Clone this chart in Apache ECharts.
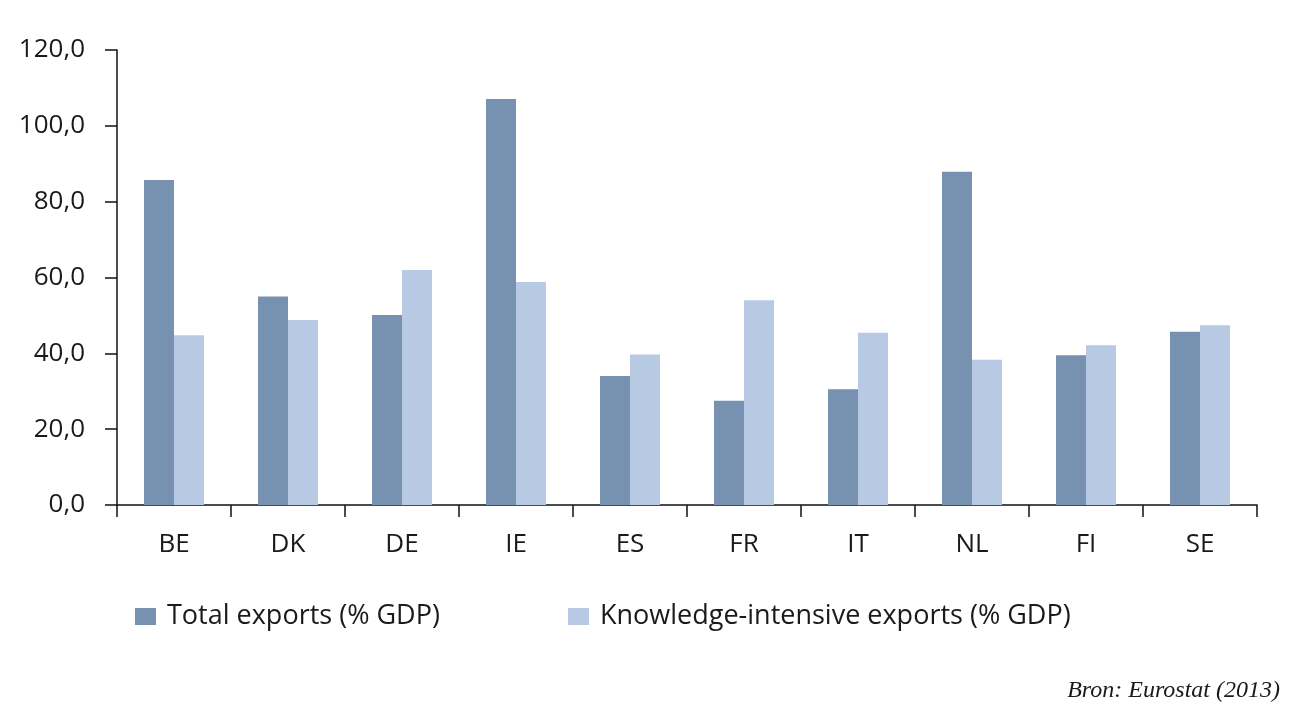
<!DOCTYPE html>
<html>
<head>
<meta charset="utf-8">
<script src="https://cdn.jsdelivr.net/npm/echarts@6/dist/echarts.min.js"></script>
<style>
html,body{margin:0;padding:0;background:#fff;}
#chart{width:1292px;height:720px;}
</style>
</head>
<body>
<div id="chart"></div>
<script>
const categories = ['BE','DK','DE','IE','ES','FR','IT','NL','FI','SE'];
const totalExports = [85.7, 55.0, 50.1, 107.1, 34.0, 27.5, 30.5, 87.9, 39.5, 45.7];
const knowledgeExports = [44.8, 48.8, 62.0, 58.8, 39.7, 54.0, 45.4, 38.3, 42.1, 47.4];
const seriesNames = ['Total exports (% GDP)', 'Knowledge-intensive exports (% GDP)'];
const sourceText = 'Bron: Eurostat (2013)';

const chart = echarts.init(document.getElementById('chart'));
const font = '"Open Sans", "Noto Sans", sans-serif';
const legendText = { fontFamily: font, fontSize: 27, color: '#1a1a1a', padding: [0,0,0,6] };
chart.setOption({
  animation: false,
  backgroundColor: '#ffffff',
  grid: { left: 117, right: 35, top: 50, bottom: 215, containLabel: false },
  legend: [
    { data: [seriesNames[0]], left: 130, top: 598, itemWidth: 21, itemHeight: 17, itemGap: 0,
      icon: 'rect', textStyle: legendText },
    { data: [seriesNames[1]], left: 563, top: 598, itemWidth: 21, itemHeight: 17, itemGap: 0,
      icon: 'rect', textStyle: legendText }
  ],
  graphic: [{
    type: 'text', right: 12, top: 679,
    style: { text: sourceText, font: 'italic 24px "Liberation Serif", "DejaVu Serif", serif', fill: '#1a1a1a' }
  }],
  xAxis: {
    type: 'category',
    data: categories,
    boundaryGap: true,
    axisLine: { show: true, lineStyle: { color: '#111', width: 1.5 } },
    axisTick: { show: true, length: 12, inside: false, lineStyle: { color: '#111', width: 1.5 } },
    axisLabel: { fontFamily: font, fontSize: 26, color: '#1a1a1a', margin: 27 },
    splitLine: { show: false }
  },
  yAxis: {
    type: 'value',
    min: 0, max: 120, interval: 20,
    axisLine: { show: true, lineStyle: { color: '#111', width: 1.5 } },
    axisTick: { show: true, length: 12, lineStyle: { color: '#111', width: 1.5 } },
    axisLabel: { fontFamily: font, fontSize: 26, color: '#1a1a1a', margin: 32,
      formatter: v => v.toFixed(1).replace('.', ',') },
    splitLine: { show: false }
  },
  series: [
    { name: seriesNames[0], type: 'bar', data: totalExports, barWidth: 30, barGap: '0%',
      itemStyle: { color: '#7692b0' } },
    { name: seriesNames[1], type: 'bar', data: knowledgeExports, barWidth: 30, barGap: '0%',
      itemStyle: { color: '#b8cae3' } }
  ]
});
</script>
</body>
</html>
